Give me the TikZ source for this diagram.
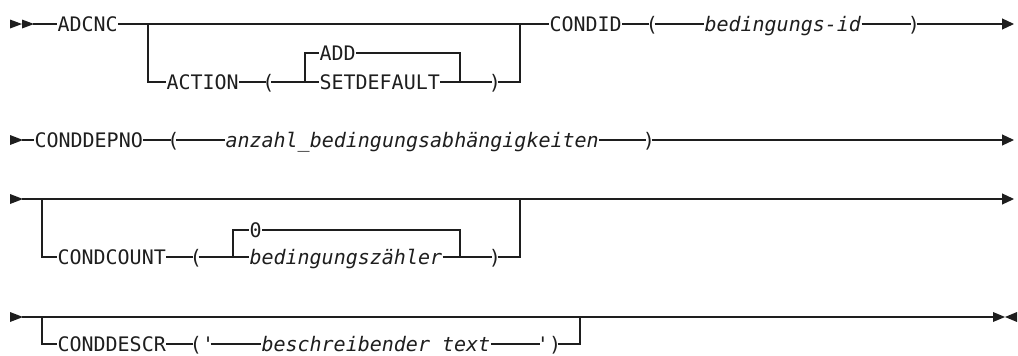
\documentclass[tikz,border=0pt]{standalone}
\usepackage{fontspec}
\setmonofont{DejaVu Sans Mono}
\usetikzlibrary{arrows.meta}
\definecolor{ink}{HTML}{1E1E1E}
\tikzset{
  kw/.style={inner xsep=0.3pt, inner ysep=0pt, text height=15pt, text depth=0.4pt,
    anchor=west, text=ink, font=\ttfamily\fontsize{20}{24}\selectfont},
  var/.style={kw, font=\ttfamily\itshape\fontsize{20}{24}\selectfont},
  pn/.style={kw, anchor=center, inner xsep=-3.5pt},
  rail/.style={draw=ink, line width=1.2pt},
  tip/.style={rail, -{Triangle[length=12pt,width=11pt]}},
  headfill/.style={fill=ink}
}
\begin{document}
\begin{tikzpicture}[x=1pt,y=-1pt]
\useasboundingbox (0,0) rectangle (1018,356);

% ---------- line 1: ADCNC [ACTION(ADD|SETDEFAULT)] CONDID(bedingungs-id)
\fill[headfill] (10,19.5) -- (22,24) -- (10,28.5) -- cycle;
\fill[headfill] (22,19.5) -- (34,24) -- (22,28.5) -- cycle;
\coordinate (s1) at (33,24);
\node[kw] (adcnc) at (57,24) {ADCNC};
\node[kw] (action) at (166,82) {ACTION};
\node[pn] (lp1) at (268.5,82) {(};
\node[kw] (add) at (319,53) {ADD};
\node[kw] (setdef) at (319,82) {SETDEFAULT};
\node[pn] (rp1) at (495,82) {)};
\node[kw] (condid) at (549,24) {CONDID};
\node[pn] (lp2) at (652,24) {(};
\node[var] (bid) at (704,24) {bedingungs-id};
\node[pn] (rp2) at (914,24) {)};
\coordinate (j1a) at (148,24);
\coordinate (j1b) at (520,24);
\coordinate (j2a) at (305,82);
\coordinate (j2b) at (460,82);
\coordinate (e1) at (1014,24);
\draw[rail] (s1) -- (adcnc);
\draw[rail] (adcnc) -- (j1a) -- (j1b) -- (condid);
\draw[rail] (j1a) |- (action);
\draw[rail] (action) -- (lp1);
\draw[rail] (lp1) -- (j2a) -- (setdef);
\draw[rail] (j2a) |- (add);
\draw[rail] (add) -| (j2b);
\draw[rail] (setdef) -- (j2b) -- (rp1);
\draw[rail] (rp1) -| (j1b);
\draw[rail] (condid) -- (lp2);
\draw[rail] (lp2) -- (bid);
\draw[rail] (bid) -- (rp2);
\draw[tip] (rp2) -- (e1);

% ---------- line 2: CONDDEPNO(anzahl_bedingungsabhängigkeiten)
\fill[headfill] (10,135) -- (23,140) -- (10,145) -- cycle;
\coordinate (s2) at (22,140);
\node[kw] (cdep) at (34,140) {CONDDEPNO};
\node[pn] (lp3) at (173.5,140) {(};
\node[var] (anz) at (225,140) {anzahl\_bedingungsabhängigkeiten};
\node[pn] (rp3) at (649,140) {)};
\coordinate (e2) at (1014,140);
\draw[rail] (s2) -- (cdep);
\draw[rail] (cdep) -- (lp3);
\draw[rail] (lp3) -- (anz);
\draw[rail] (anz) -- (rp3);
\draw[tip] (rp3) -- (e2);

% ---------- line 3: [CONDCOUNT(0|bedingungszähler)]
\fill[headfill] (10,194) -- (23,199) -- (10,204) -- cycle;
\coordinate (s3) at (22,199);
\node[kw] (ccnt) at (57,257) {CONDCOUNT};
\node[pn] (lp4) at (196,257) {(};
\node[kw] (zero) at (249,230) {0};
\node[var] (bz) at (249,257) {bedingungszähler};
\node[pn] (rp4) at (495,257) {)};
\coordinate (j3a) at (42,199);
\coordinate (j3b) at (520,199);
\coordinate (j4a) at (233,257);
\coordinate (j4b) at (460,257);
\coordinate (e3) at (1014,199);
\draw[tip] (s3) -- (j3a) -- (j3b) -- (e3);
\draw[rail] (j3a) |- (ccnt);
\draw[rail] (ccnt) -- (lp4);
\draw[rail] (lp4) -- (j4a) -- (bz);
\draw[rail] (j4a) |- (zero);
\draw[rail] (zero) -| (j4b);
\draw[rail] (bz) -- (j4b) -- (rp4);
\draw[rail] (rp4) -| (j3b);

% ---------- line 4: [CONDDESCR('beschreibender text')]
\fill[headfill] (10,312) -- (23,317) -- (10,322) -- cycle;
\coordinate (s4) at (22,317);
\node[kw] (cdesc) at (57,344) {CONDDESCR};
\node[pn] (lq) at (202,344) {('};
\node[var] (btxt) at (261,344) {beschreibender text};
\node[pn] (rq) at (549,344) {')};
\coordinate (j5a) at (42,317);
\coordinate (j5b) at (580,317);
\coordinate (e4) at (994,317);
\draw[rail] (s4) -- (j5a) -- (j5b) -- (e4);
\draw[rail] (j5a) |- (cdesc);
\draw[rail] (cdesc) -- (lq);
\draw[rail] (lq) -- (btxt);
\draw[rail] (btxt) -- (rq);
\draw[rail] (rq) -| (j5b);
\fill[headfill] (993,312) -- (1005,317) -- (993,322) -- cycle;
\fill[headfill] (1017,312) -- (1005,317) -- (1017,322) -- cycle;
\end{tikzpicture}
\end{document}
